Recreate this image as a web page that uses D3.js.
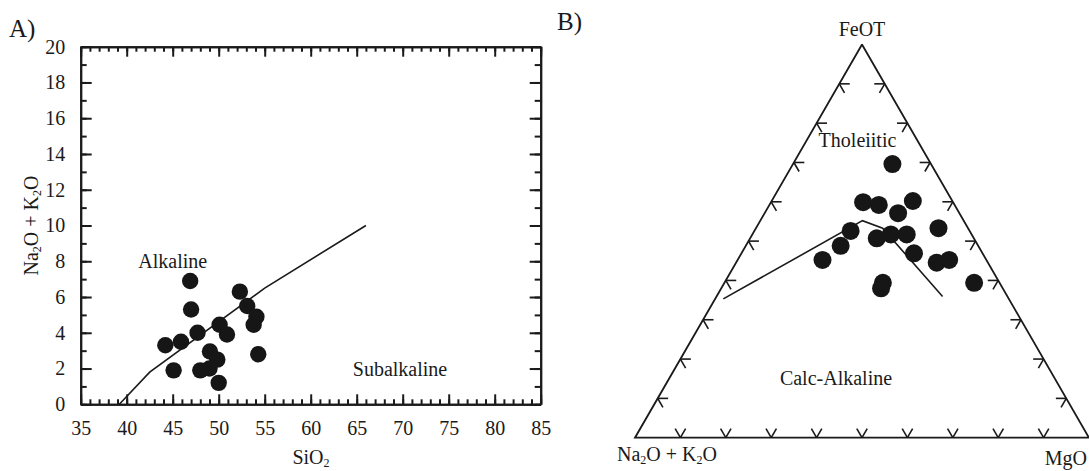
<!DOCTYPE html>
<html>
<head>
<meta charset="utf-8">
<script src="https://cdn.jsdelivr.net/npm/d3@7/dist/d3.min.js"></script>
<style>
  html, body { margin: 0; padding: 0; background: #fff; }
  svg text { font-family: "Liberation Serif", "Times New Roman", serif; fill: #1a1a1a; }
</style>
</head>
<body>
<svg id="fig" width="1089" height="471"></svg>
<script>
// ---- Panel A: total alkali vs silica ----
const sio2   = [46.9, 47.0, 52.3, 53.1, 54.1, 53.8, 50.1, 50.9, 47.7, 45.9, 44.2, 45.1, 49.05, 49.85, 48.0, 49.0, 50.0, 54.3];
const alkali = [6.9, 5.3, 6.3, 5.5, 4.9, 4.45, 4.45, 3.9, 4.0, 3.5, 3.3, 1.9, 2.95, 2.5, 1.9, 2.0, 1.2, 2.8];
// Alkaline / subalkaline dividing line
const divSio2   = [39.2, 42.5, 55, 66];
const divAlkali = [0, 1.8, 6.5, 10];
const xTicks = [35, 40, 45, 50, 55, 60, 65, 70, 75, 80, 85];
const yTicks = [0, 2, 4, 6, 8, 10, 12, 14, 16, 18, 20];

// ---- Panel B: AFM ternary (percent) ----
const afmF = [69.6, 59.9, 59.2, 60.2, 57.1, 53.3, 52.6, 50.7, 51.7, 51.7, 48.8, 45.2, 46.9, 44.5, 45.2, 39.4, 39.4, 38.0];
const afmA = [8.5, 19.8, 16.7, 8.7, 13.5, 6.5, 26.2, 21.4, 17.8, 14.3, 30.3, 36.1, 15.1, 11.3, 8.2, 5.6, 25.7, 26.8];
const afmM = [21.9, 20.3, 24.1, 31.1, 29.4, 40.2, 21.2, 27.9, 30.5, 34.0, 20.9, 18.7, 38.0, 44.2, 46.6, 55.0, 34.9, 35.2];
// Tholeiitic / calc-alkaline dividing line
const bndF = [35.3, 55.2, 53.3, 35.9];
const bndA = [62.9, 22.3, 18.8, 14.3];
const bndM = [1.8, 22.5, 27.9, 49.8];
const ternTicks = [10, 20, 30, 40, 50, 60, 70, 80, 90];

const svg = d3.select("#fig");
const INK = "#1a1a1a";
const FS = 20;
const SUB_FS = 12, SUB_DY = 3;

// text with subscripts: parts = [[text, isSub], ...]
function richText(g, parts, attrs) {
  const t = g.append("text");
  Object.entries(attrs).forEach(([k, v]) => t.attr(k, v));
  let prevSub = false;
  parts.forEach(([s, sub]) => {
    const sp = t.append("tspan").text(s);
    if (sub) sp.attr("font-size", SUB_FS).attr("dy", SUB_DY);
    else if (prevSub) sp.attr("dy", -SUB_DY);
    prevSub = sub;
  });
  return t;
}

// ===== Panel A =====
const A = svg.append("g");
const x = d3.scaleLinear().domain([35, 85]).range([80.7, 540.7]);
const y = d3.scaleLinear().domain([0, 20]).range([404.3, 46.7]);
const xMinor = d3.range(35, 86, 1);
const yMinor = d3.range(0, 21, 1);

function styleAxis(g) {
  g.select(".domain").attr("stroke", INK).attr("stroke-width", 2);
  g.selectAll(".tick line").attr("stroke", INK).attr("stroke-width", 2);
  g.selectAll(".tick text").attr("font-size", FS).attr("font-family", "Liberation Serif").attr("fill", INK);
}

// minor ticks on all four sides
A.append("g").attr("transform", `translate(0,${y(0)})`)
  .call(d3.axisBottom(x).tickValues(xMinor).tickSizeInner(-5).tickSizeOuter(0).tickFormat(""))
  .call(styleAxis);
A.append("g").attr("transform", `translate(0,${y(20)})`)
  .call(d3.axisTop(x).tickValues(xMinor).tickSizeInner(-5).tickSizeOuter(0).tickFormat(""))
  .call(styleAxis);
A.append("g").attr("transform", `translate(${x(35)},0)`)
  .call(d3.axisLeft(y).tickValues(yMinor).tickSizeInner(-6).tickSizeOuter(0).tickFormat(""))
  .call(styleAxis);
A.append("g").attr("transform", `translate(${x(85)},0)`)
  .call(d3.axisRight(y).tickValues(yMinor).tickSizeInner(-6).tickSizeOuter(0).tickFormat(""))
  .call(styleAxis);

// major ticks and labels
A.append("g").attr("transform", `translate(0,${y(0)})`)
  .call(d3.axisBottom(x).tickValues(xTicks).tickSizeInner(-10).tickSizeOuter(0).tickPadding(17).tickFormat(d3.format("d")))
  .call(styleAxis);
A.append("g").attr("transform", `translate(0,${y(20)})`)
  .call(d3.axisTop(x).tickValues(xTicks).tickSizeInner(-10).tickSizeOuter(0).tickFormat(""))
  .call(styleAxis);
A.append("g").attr("transform", `translate(${x(35)},0)`)
  .call(d3.axisLeft(y).tickValues(yTicks).tickSizeInner(-11).tickSizeOuter(0).tickPadding(15.5).tickFormat(d3.format("d")))
  .call(styleAxis);
A.append("g").attr("transform", `translate(${x(85)},0)`)
  .call(d3.axisRight(y).tickValues(yTicks).tickSizeInner(-11).tickSizeOuter(0).tickFormat(""))
  .call(styleAxis);

// dividing line
A.append("path")
  .datum(d3.range(divSio2.length))
  .attr("fill", "none").attr("stroke", INK).attr("stroke-width", 1.6)
  .attr("d", d3.line().x(i => x(divSio2[i])).y(i => y(divAlkali[i])));

// samples
A.append("g").selectAll("circle").data(d3.range(sio2.length)).join("circle")
  .attr("cx", i => x(sio2[i])).attr("cy", i => y(alkali[i]))
  .attr("r", 8.2).attr("fill", "#161616");

// labels
A.append("text").attr("x", 9).attr("y", 37).attr("font-size", 25).text("A)");
A.append("text").attr("x", 172.7).attr("y", 268).attr("text-anchor", "middle").attr("font-size", FS).text("Alkaline");
A.append("text").attr("x", 400).attr("y", 376).attr("text-anchor", "middle").attr("font-size", FS).text("Subalkaline");
richText(A, [["SiO", false], ["2", true]], { x: 311, y: 464, "text-anchor": "middle", "font-size": FS });
richText(A, [["Na", false], ["2", true], ["O + K", false], ["2", true], ["O", false]],
  { transform: `translate(38,${(y(0) + y(20)) / 2}) rotate(-90)`, "text-anchor": "middle", "font-size": FS });

// ===== Panel B =====
const B = svg.append("g");
const side = d3.scaleLinear().domain([0, 100]).range([0, 454]);
const origin = { x: 635, y: 437.7 };
const SIN60 = Math.sqrt(3) / 2;
// ternary (F, A, M) -> pixel
function proj(f, a, m) {
  const s = f + a + m;
  const F = f / s * 100, M = m / s * 100;
  return [origin.x + side(M) + side(F) / 2, origin.y - side(F) * SIN60];
}

const tri = [proj(100, 0, 0), proj(0, 100, 0), proj(0, 0, 100)];
B.append("path")
  .attr("d", d3.line()([...tri, tri[0]]))
  .attr("fill", "none").attr("stroke", INK).attr("stroke-width", 1.8).attr("stroke-linejoin", "miter");

// tick marks along each side, following the ternary grid directions
const d = 2.3;
const tickSegs = [];
ternTicks.forEach(t => {
  // base (F = 0)
  tickSegs.push([proj(0, 100 - t, t), proj(d, 100 - t, t - d)]);
  tickSegs.push([proj(0, 100 - t, t), proj(d, 100 - t - d, t)]);
  // left side (M = 0)
  tickSegs.push([proj(t, 100 - t, 0), proj(t, 100 - t - d, d)]);
  tickSegs.push([proj(t, 100 - t, 0), proj(t - d, 100 - t, d)]);
  // right side (A = 0)
  tickSegs.push([proj(t, 0, 100 - t), proj(t, d, 100 - t - d)]);
  tickSegs.push([proj(t, 0, 100 - t), proj(t - d, d, 100 - t)]);
});
B.append("g").selectAll("path").data(tickSegs).join("path")
  .attr("d", s => d3.line()(s))
  .attr("stroke", INK).attr("stroke-width", 1.6).attr("fill", "none");

// dividing line
B.append("path")
  .datum(d3.range(bndF.length).map(i => proj(bndF[i], bndA[i], bndM[i])))
  .attr("fill", "none").attr("stroke", INK).attr("stroke-width", 1.6)
  .attr("d", d3.line());

// samples
B.append("g").selectAll("circle").data(d3.range(afmF.length)).join("circle")
  .attr("cx", i => proj(afmF[i], afmA[i], afmM[i])[0])
  .attr("cy", i => proj(afmF[i], afmA[i], afmM[i])[1])
  .attr("r", 9).attr("fill", "#161616");

// labels
B.append("text").attr("x", 557).attr("y", 30).attr("font-size", 25).text("B)");
B.append("text").attr("x", tri[0][0]).attr("y", 36).attr("text-anchor", "middle").attr("font-size", FS).text("FeOT");
B.append("text").attr("x", 857.5).attr("y", 147).attr("text-anchor", "middle").attr("font-size", FS).text("Tholeiitic");
B.append("text").attr("x", 836).attr("y", 385).attr("text-anchor", "middle").attr("font-size", FS).text("Calc-Alkaline");
richText(B, [["Na", false], ["2", true], ["O + K", false], ["2", true], ["O", false]],
  { x: 667, y: 461, "text-anchor": "middle", "font-size": FS });
B.append("text").attr("x", 1087).attr("y", 465).attr("text-anchor", "end").attr("font-size", FS).text("MgO");
</script>
</body>
</html>
